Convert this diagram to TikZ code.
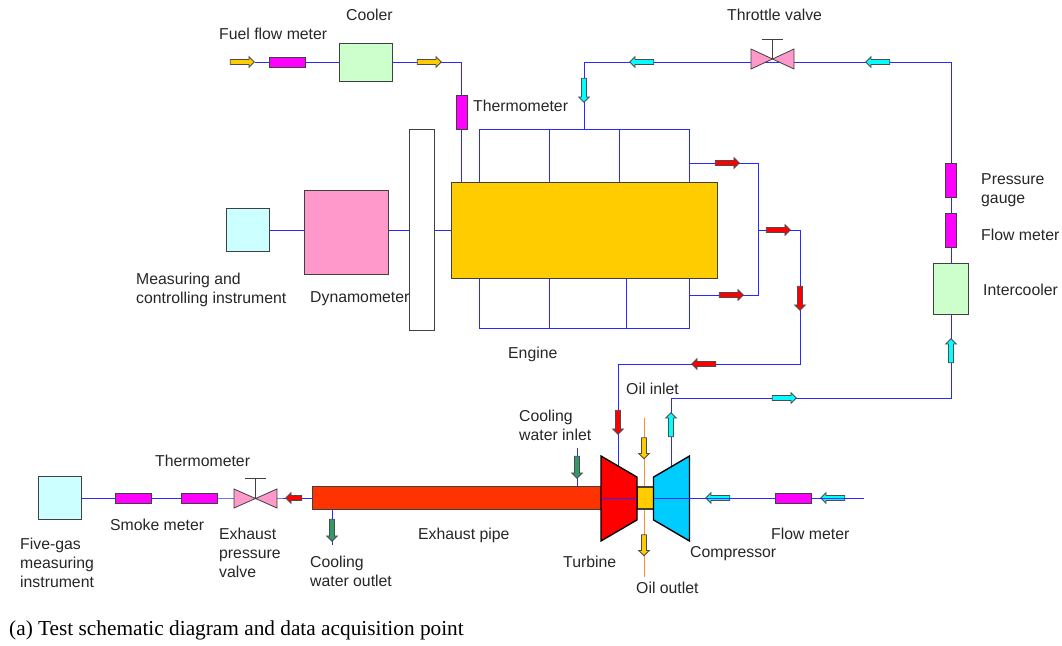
\documentclass[tikz,border=0pt]{standalone}
\usepackage{fontspec}
\setmainfont{Liberation Sans}
\newfontfamily\capfont{Liberation Serif}
\usetikzlibrary{arrows.meta, positioning, calc, shapes.arrows, shapes.geometric, backgrounds}
\definecolor{cpipe}{RGB}{40,40,255}
\definecolor{coil}{RGB}{255,140,50}
\definecolor{cgreen}{RGB}{204,255,204}
\definecolor{cpale}{RGB}{204,255,255}
\definecolor{cpink}{RGB}{255,153,204}
\definecolor{cgold}{RGB}{255,204,0}
\definecolor{cexh}{RGB}{255,51,0}
\definecolor{cred}{RGB}{255,0,0}
\definecolor{csky}{RGB}{0,204,255}
\definecolor{cmag}{RGB}{255,0,255}
\definecolor{ccyan}{RGB}{0,255,255}
\definecolor{cdark}{RGB}{51,153,102}

\begin{document}
\begin{tikzpicture}[
        x=1pt, y=-1pt,
        font=\fontsize{15.8}{19}\selectfont,
        box/.style={draw=black!75, line width=1pt, inner sep=0pt, outer sep=0pt},
        cooler/.style={box, fill=cgreen},
        meter/.style={box, fill=cmag, minimum width=36pt, minimum height=10pt},
        vmeter/.style={box, fill=cmag, minimum width=11pt, minimum height=34pt},
        instr/.style={box, fill=cpale, minimum width=43pt, minimum height=43pt},
        pipe/.style={draw=cpipe, line width=0.9pt},
        oil/.style={draw=coil, line width=0.9pt},
        lbl/.style={anchor=west, align=left, inner sep=0pt, text=black!85},
        flowarr/.style={single arrow, draw=black!70, line width=0.8pt, inner xsep=0pt, inner ysep=2.1pt, minimum height=24pt, single arrow head extend=2.8pt, single arrow tip angle=90},
        arrc/.style={flowarr, fill=ccyan},
        arry/.style={flowarr, fill=cgold},
        arrr/.style={flowarr, fill=cred},
        arrg/.style={flowarr, fill=cdark},
        valvefill/.style={draw=black!75, line width=0.8pt, fill=cpink},
        turbo/.style={trapezium, draw=black, line width=1.4pt, inner sep=0pt, outer sep=0pt, trapezium stretches=true, minimum width=85pt, minimum height=36pt, trapezium left angle=65, trapezium right angle=65}
    ]
        \useasboundingbox (0,0) rectangle (1062,645);

        \node[box, fill=white, minimum width=25pt, minimum height=201pt] (plate) at (421.5,229.5) {};
        \node[box, fill=cgold, minimum width=266pt, minimum height=96pt] (engine) at (584,230) {};
        \node[box, fill=cpink, minimum width=84pt, minimum height=84pt] (dyno) at (346,232) {};
        \node[instr] (mci) at (248,230) {};
        \node[cooler, minimum width=53pt, minimum height=38pt] (cooler) at (365.5,62) {};
        \node[meter] (fuelm) at (287,62) {};
        \node[vmeter] (therm) at (461.5,112.5) {};
        \node[vmeter] (press) at (951,180) {};
        \node[vmeter] (flowm) at (951,230) {};
        \node[cooler, minimum width=35pt, minimum height=51pt] (icool) at (951,288.5) {};
        \node[instr] (fivegas) at (59.5,498) {};
        \node[meter] (smoke) at (133,498) {};
        \node[meter] (therm2) at (199,498) {};
        \node[box, fill=cexh, minimum width=289pt, minimum height=23pt] (pipex) at (456.5,498) {};
        \node[box, line width=1.2pt, fill=cgold, minimum width=17pt, minimum height=22pt] (shaft) at (645.5,498) {};
        \node[meter] (airm) at (793.5,498) {};
        \node[turbo, fill=cred, rotate=-90] (turb) at (619,498.5) {\phantom{x}};
        \node[turbo, fill=csky, rotate=90] (comp) at (671.5,498.5) {\phantom{x}};

        \coordinate (thv) at (772,59);
        \coordinate (exv) at (255,498);
        \coordinate (tl) at (479,129);
        \coordinate (tr) at (689,129);
        \coordinate (bl) at (479,328);
        \coordinate (br) at (689,328);
        \coordinate (cwin) at (577,448);
        \coordinate (cwout) at (332,545);
        \coordinate (airin) at (864,498);
        \coordinate (oiltop) at (644,418);
        \coordinate (oilbot) at (644,577);
        \coordinate (exj) at (758,230);
        \coordinate (exr) at (800,230);
        \coordinate (exb) at (800,364);
        \coordinate (turbin) at (618,364);
        \coordinate (air1) at (671,398);
        \coordinate (air2) at (951,398);
        \coordinate (air3) at (951,62);
        \coordinate (airtop) at (584,62);
        \coordinate (airdn) at (584,129);

        \node[arry] (fa1) at (241,62) {};
        \node[arry] (fa2) at (428,62) {};
        \node[arrc, rotate=-90] (ca1) at (584,89) {};
        \node[arrc, rotate=180] (ca2) at (643,62) {};
        \node[arrc, rotate=180] (ca3) at (879,62) {};
        \node[arrc, rotate=90] (ca4) at (951,352) {};
        \node[arrc] (ca5) at (783,398) {};
        \node[arrc, rotate=90] (ca6) at (671,426) {};
        \node[arrc, rotate=180] (ca7) at (719,498) {};
        \node[arrc, rotate=180] (ca8) at (834,498) {};
        \node[arrr] (ra1) at (726,163) {};
        \node[arrr] (ra2) at (730,295) {};
        \node[arrr] (ra3) at (777,230) {};
        \node[arrr, rotate=-90] (ra4) at (800,297) {};
        \node[arrr, rotate=180] (ra5) at (705,364) {};
        \node[arrr, rotate=-90] (ra6) at (618,421) {};
        \node[arrr, rotate=180, minimum height=16pt] (ra7) at (295,498) {};
        \node[arrg, rotate=-90, minimum height=22pt] (ga1) at (577,466) {};
        \node[arrg, rotate=-90, minimum height=22pt] (ga2) at (332,529) {};
        \node[arry, rotate=-90, minimum height=21pt] (ya1) at (644,447) {};
        \node[arry, rotate=-90, minimum height=21pt] (ya2) at (644,544) {};

        \begin{scope}[on background layer]
            \draw[pipe] (fa1) -- (fuelm) -- (cooler) -- (fa2);
            \draw[pipe] (cooler.east) -| (therm.north);
            \draw[pipe] (therm.south) -- (therm |- engine.north);
            \draw[pipe] (mci) -- (engine);
            \draw[pipe] (tl |- engine.north) -- (tl) -- (tr) -- (tr |- engine.north);
            \draw[pipe] (549,129) -- (549,182);
            \draw[pipe] (619,129) -- (619,182);
            \draw[pipe] (bl |- engine.south) -- (bl) -- (br) -- (br |- engine.south);
            \draw[pipe] (549,278) -- (549,328);
            \draw[pipe] (626,278) -- (626,328);
            \draw[pipe] (689,163) -- (758,163) -- (758,295) -- (689,295);
            \draw[pipe] (exj) -- (exr) -- (exb) -- (turbin) -- (turbin |- turb);
            \draw[pipe] (air1 |- comp) -- (air1) -- (air2) -- (icool);
            \draw[pipe] (icool) -- (flowm) -- (press) -- (air3) -- (airtop) -- (airdn);
            \draw[pipe] (fivegas) -- (smoke) -- (therm2) -- (exv) -- (pipex);
            \draw[pipe] (cwout |- pipex.south) -- (cwout);
            \draw[pipe] (cwin |- pipex.north) -- (cwin);
            \draw[oil] (oiltop) -- (oilbot);
        \end{scope}

        \draw[pipe] (601,498) -- (shaft.west);
        \draw[pipe] (shaft.east) -- (airm) -- (airin);

        \draw[valvefill] (751,49) -- (794,69) -- (794,49) -- (751,69) -- cycle;
        \draw[black!75, line width=0.8pt] (thv) -- (772,39) (762,39) -- (783,39);
        \draw[valvefill] (234,489) -- (277,508) -- (277,489) -- (234,508) -- cycle;
        \draw[black!75, line width=0.8pt] (255,498) -- (255,478) (245,478) -- (266,478);

        \node[lbl] (tcool) at (346,15) {Cooler};
        \node[lbl] (tfuel) at (219,34) {Fuel flow meter};
        \node[lbl] (tthv) at (727,15) {Throttle valve};
        \node[lbl] (ttherm) at (473,106) {Thermometer};
        \node[lbl] (tpress) at (981,190) {Pressure\\gauge};
        \node[lbl] (tflow) at (981,235) {Flow meter};
        \node[lbl] (ticool) at (983,290) {Intercooler};
        \node[lbl] (tmci) at (136,290) {Measuring and\\controlling instrument};
        \node[lbl] (tdyno) at (310,299) {Dynamometer};
        \node[lbl] (tengine) at (508,354) {Engine};
        \node[lbl] (toili) at (626,389) {Oil inlet};
        \node[lbl] (tcwin) at (519,425) {Cooling\\water inlet};
        \node[lbl] (ttherm2) at (155,461) {Thermometer};
        \node[lbl] (tsmoke) at (110,525) {Smoke meter};
        \node[lbl] (tfive) at (20,563) {Five-gas\\measuring\\instrument};
        \node[lbl] (texv) at (219,553) {Exhaust\\pressure\\valve};
        \node[lbl] (tcwout) at (310,571) {Cooling\\water outlet};
        \node[lbl] (tpipe) at (418,535) {Exhaust pipe};
        \node[lbl] (tturb) at (563,562) {Turbine};
        \node[lbl] (tcomp) at (690,554) {Compressor};
        \node[lbl] (tairm) at (771,534) {Flow meter};
        \node[lbl] (toilo) at (636,588) {Oil outlet};
        \node[lbl, font=\capfont\fontsize{21.3}{24}\selectfont, text=black] (caption) at (9,630) {(a) Test schematic diagram and data acquisition point};
    \end{tikzpicture}
\end{document}
